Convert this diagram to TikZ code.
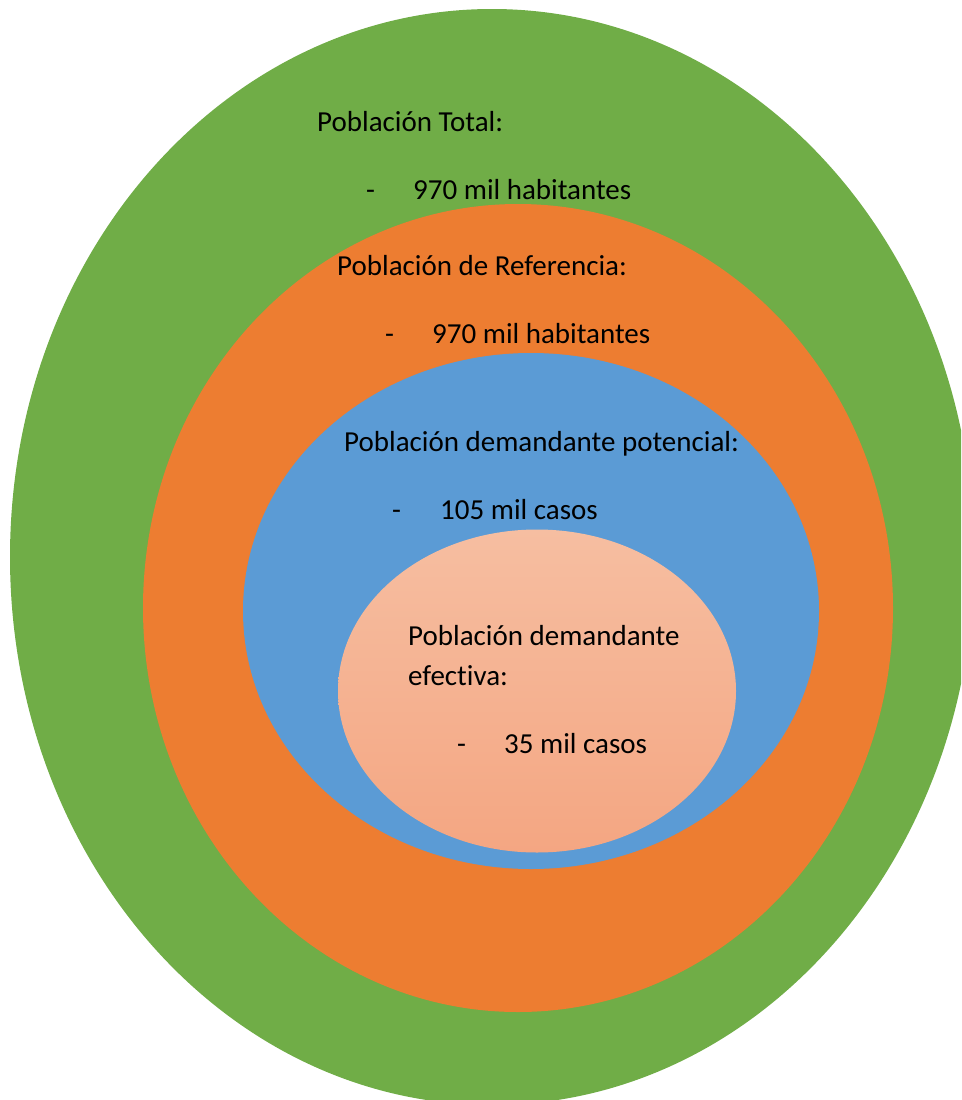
\documentclass[tikz,border=0pt]{standalone}
\usepackage{fontspec}
\setmainfont[Ligatures=NoCommon]{Carlito}
\definecolor{PobGreen}{HTML}{70AD47}
\definecolor{PobOrange}{HTML}{ED7D31}
\definecolor{PobBlue}{HTML}{5B9BD5}
\definecolor{PobPeachTop}{HTML}{F6BEA1}
\definecolor{PobPeachBot}{HTML}{F4A682}
\usetikzlibrary{shapes.geometric, positioning}

\begin{document}
\begin{tikzpicture}[x=1pt, y=-1pt,
    ring/.style={ellipse, inner sep=0pt, draw=none},
    txt/.style={anchor=base west, inner sep=0pt, font=\fontsize{29}{35}\selectfont},
    dashitem/.style={txt}]
   \useasboundingbox (0,0) rectangle (961,1100);
   \clip (0,0) rectangle (961,1100);
   % nested populations
   \node[ring, fill=PobGreen, minimum width=964pt, minimum height=1096pt] (total) at (492,557) {};
   \node[ring, fill=PobOrange, minimum width=750pt, minimum height=808pt] (referencia) at (518,608) {};
   \node[ring, fill=PobBlue, minimum width=576pt, minimum height=516pt] (potencial) at (531,611) {};
   \node[ring, top color=PobPeachTop, bottom color=PobPeachBot, minimum width=398pt, minimum height=323pt] (efectiva) at (537,691) {};
   % texts
   \node[txt] (totaltitle) at (317,131) {Población Total:};
   \node[dashitem] (totalval) at (366,199) {\makebox[47pt][l]{-}970 mil habitantes};
   \node[txt] (reftitle) at (337,275) {Población de Referencia:};
   \node[dashitem] (refval) at (385,343) {\makebox[47pt][l]{-}970 mil habitantes};
   \node[txt] (pottitle) at (344,451) {Población demandante potencial:};
   \node[dashitem] (potval) at (392,519) {\makebox[48pt][l]{-}105 mil casos};
   \node[txt] (eftitle) at (408,645) {Población demandante};
   \node[txt] (eftitleb) at (408,685) {efectiva:};
   \node[dashitem] (efval) at (457,753) {\makebox[47pt][l]{-}35 mil casos};
\end{tikzpicture}
\end{document}
